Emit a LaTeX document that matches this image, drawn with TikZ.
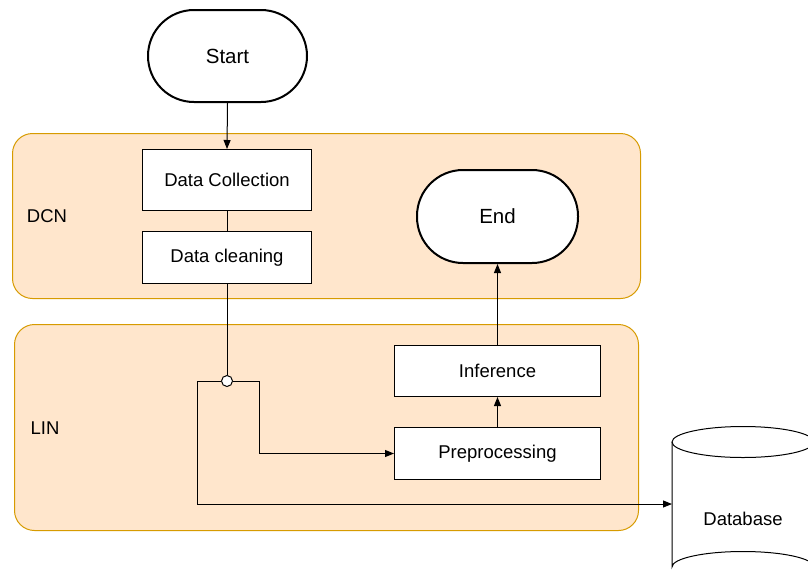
\documentclass[tikz,border=0pt]{standalone}
\usepackage{fontspec}
\setmainfont{Liberation Sans}
\usetikzlibrary{arrows.meta}
\definecolor{lanefill}{HTML}{FFE6CC}
\definecolor{lanestroke}{HTML}{D79B00}
\begin{document}
\begin{tikzpicture}[x=1pt,y=-1pt,
  lane/.style={draw=lanestroke, fill=lanefill, rounded corners=20pt, line width=1pt,
    inner sep=0pt, anchor=north west},
  proc/.style={draw, fill=white, line width=1pt, inner sep=0pt, anchor=north west,
    font=\fontsize{18.5pt}{22pt}\selectfont},
  term/.style={draw, fill=white, line width=2pt, rounded corners=46pt, inner sep=0pt,
    anchor=north west, font=\fontsize{20.5pt}{24pt}\selectfont},
  lanelabel/.style={font=\fontsize{18.5pt}{22pt}\selectfont},
  link/.style={line width=1pt},
  flow/.style={line width=1pt, -{Triangle[length=9pt,width=7pt]}},
  junction/.style={circle, draw, fill=white, line width=1pt, minimum size=11pt, inner sep=0pt}
]
\useasboundingbox (0,0) rectangle (808,584);
\clip (0,0) rectangle (808,584);

% swimlane backgrounds
\node[lane, minimum width=628pt, minimum height=165pt] (dcn) at (12,133) {};
\node[lane, minimum width=624pt, minimum height=206pt] (lin) at (14,324) {};
\node[lanelabel] (dcnlabel) at (47,216) {DCN};
\node[lanelabel] (linlabel) at (45,428) {LIN};

% terminators
\node[term, minimum width=159pt, minimum height=92pt] (start) at (147,9) {Start};
\node[term, minimum width=161pt, minimum height=93pt] (finish) at (416,169) {End};

% process steps
\node[proc, minimum width=169pt, minimum height=61pt] (collect) at (142,149) {Data Collection};
\node[proc, minimum width=169pt, minimum height=52pt] (clean) at (142,231) {Data cleaning};
\node[proc, minimum width=206pt, minimum height=51pt] (infer) at (394,345) {Inference};
\node[proc, minimum width=206pt, minimum height=52pt] (prep) at (394,427) {Preprocessing};

% database cylinder
\begin{scope}[line width=1pt]
  \fill[white] (672,442) -- (672,567) arc[start angle=180, end angle=360, x radius=71, y radius=15.5]
     -- (814,442) arc[start angle=0, end angle=180, x radius=71, y radius=15.5] -- cycle;
  \draw (672,442) -- (672,567) arc[start angle=180, end angle=360, x radius=71, y radius=15.5]
     -- (814,442);
  \draw (743,442) ellipse[x radius=71, y radius=15.5];
\end{scope}
\node[font=\fontsize{18.5pt}{22pt}\selectfont] (db) at (743,519) {Database};
\coordinate (dbin) at (672,504);

% junction splitting the cleaned data
\node[junction] (junc) at (227,381) {};

% connectors
\draw[flow] (start.south) -- (collect.north);
\draw[link] (collect.south) -- (clean.north);
\draw[link] (clean.south) -- (junc.north);
\draw[flow] (junc.east) -- ++(26.5,0) |- (prep.west);
\draw[flow] (junc.west) -- ++(-23.5,0) |- (dbin);
\draw[flow] (prep.north) -- (infer.south);
\draw[flow] (infer.north) -- (finish.south);
\end{tikzpicture}
\end{document}
